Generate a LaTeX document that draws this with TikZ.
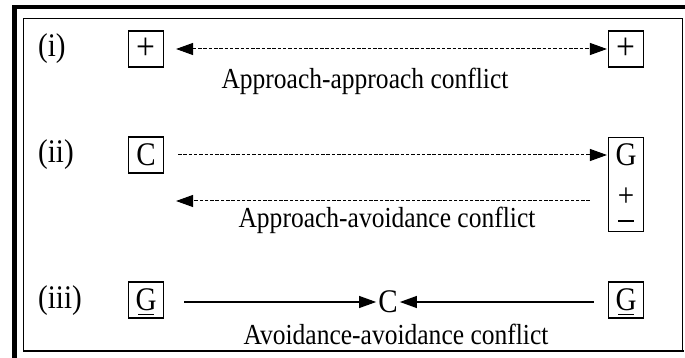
\documentclass[tikz,border=0pt]{standalone}
\usepackage{fontspec}
\setmainfont{Liberation Serif}[FakeStretch=0.88]
\usetikzlibrary{arrows.meta}
\begin{document}
\begin{tikzpicture}[x=1pt,y=-1pt,
  every node/.style={font=\fontsize{29}{34}\selectfont, inner sep=0pt},
  big/.style={font=\fontsize{33}{38}\selectfont},
  plus/.style={font=\fontsize{38}{40}\selectfont},
  sbox/.style={draw, line width=1.1pt, minimum width=35pt, minimum height=36pt, big},
  tip/.style={-{Triangle[length=17pt,width=12pt]}},
  dtip/.style={{Triangle[length=17pt,width=12pt]}-{Triangle[length=17pt,width=12pt]}},
  dsh/.style={line width=1pt, dash pattern=on 3.5pt off 1.8pt},
  sol/.style={line width=1.1pt}]
\useasboundingbox (0,0) rectangle (685,358);
% frame
\draw[line width=1pt] (23,19) rectangle (682,350);
\draw[line width=5pt] (14,6) -- (14,358);
\draw[line width=4pt] (12,7) -- (685,7);
\draw[line width=2pt] (23,351) -- (684,351);
% row (i)
\node[big, anchor=west] (li) at (38,49) {(i)};
\node[sbox, plus] (p1) at (146,49) {+};
\node[sbox, plus] (p2) at (626,49) {+};
\draw[dsh, dtip] ([xshift=12pt]p1.east) -- ([xshift=-1pt]p2.west);
\node (t1) at (365,81) {Approach-approach conflict};
% row (ii)
\node[big, anchor=west] (lii) at (38,155) {(ii)};
\node[sbox] (c2) at (146,155) {C};
\node[draw, line width=1.1pt, minimum width=35pt, minimum height=94pt, anchor=north] (g2) at (626,137) {};
\node[big] (g2G) at (626,155) {G};
\node[big] (g2p) at (626,197) {+};
\node (g2m) at (626,221) {\rule{0.55em}{1.2pt}};
\draw[dsh, tip] ([xshift=14pt]c2.east) -- ([xshift=-1pt]g2.west |- c2.east);
\coordinate (a2s) at ([xshift=-18pt]g2.west |- 0,201);
\draw[dsh, tip] (a2s) -- ([xshift=12pt]c2.east |- a2s);
\node (t2) at (387,220) {Approach-avoidance conflict};
% row (iii)
\node[big, anchor=west] (liii) at (38,301) {(iii)};
\node[sbox] (g3a) at (146,300) {G};
\node[sbox] (g3b) at (626,300) {G};
\draw[line width=0.9pt] (138,314) -- (154,314);
\draw[line width=0.9pt] (618,314) -- (634,314);
\node[big] (c3) at (388,302) {C};
\draw[sol, tip] ([xshift=20pt]g3a.east |- c3) -- ([xshift=-2pt]c3.west);
\draw[sol, tip] ([xshift=-14pt]g3b.west |- c3) -- ([xshift=2pt]c3.east);
\node (t3) at (396,334) {Avoidance-avoidance conflict};
\end{tikzpicture}
\end{document}
